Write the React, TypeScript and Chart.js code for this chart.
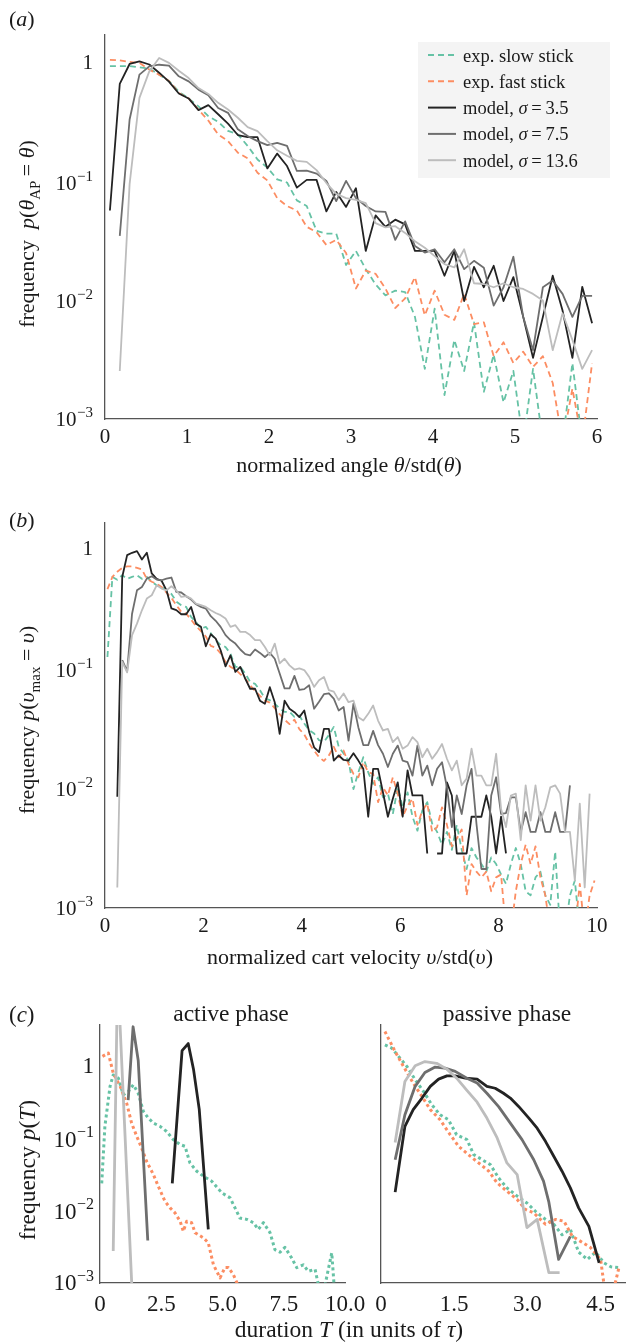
import React, { useEffect, useRef } from 'react';
import { Chart, registerables } from 'chart.js';

Chart.register(...registerables);

const FONT = '"Liberation Serif", "Times New Roman", Times, serif';
const INK = '#1a1a1a';
const AXIS = '#555555';
const GREEN = '#66c2a5';
const ORANGE = '#fc8d62';
const C35 = '#232323';
const C75 = '#6e6e6e';
const C136 = '#bdbdbd';
const W = 627;

// ---------------- Panel (a): normalized angle ----------------
const aBins = [0.06, 0.18, 0.30, 0.42, 0.54, 0.66, 0.78, 0.90, 1.02, 1.14,
  1.26, 1.38, 1.50, 1.62, 1.74, 1.86, 1.98, 2.10, 2.22, 2.34,
  2.46, 2.58, 2.70, 2.82, 2.94, 3.06, 3.18, 3.30, 3.42, 3.54,
  3.66, 3.78, 3.90, 4.02, 4.14, 4.26, 4.38, 4.50, 4.62, 4.74,
  4.86, 4.98, 5.10, 5.22, 5.34, 5.46, 5.58, 5.70, 5.82, 5.94];
const aSlow = [0.92, 0.92, 0.92, 0.90, 0.88, 0.78, 0.69, 0.56, 0.49, 0.42,
  0.347, 0.31, 0.26, 0.243, 0.194, 0.149, 0.127, 0.101, 0.095, 0.067,
  0.060, 0.037, 0.035, 0.035, 0.019, 0.025, 0.0175, 0.013, 0.0105, 0.0115,
  0.0112, 0.0069, 0.0025, 0.0081, 0.0015, 0.0044, 0.0024, 0.0062, 0.0016, 0.0033,
  0.0013, 0.0024, 0.0006, 0.0025, 0.0006, 0.0006, 0.0006, 0.0028, 0.0006, 0.0006];
const aFast = [1.04, 1.03, 1.00, 0.98, 0.86, 0.78, 0.69, 0.546, 0.49, 0.394,
  0.318, 0.243, 0.213, 0.170, 0.152, 0.115, 0.099, 0.070, 0.060, 0.055,
  0.040, 0.036, 0.028, 0.031, 0.024, 0.012, 0.017, 0.016, 0.012, 0.0082,
  0.0099, 0.015, 0.0071, 0.0115, 0.0072, 0.0065, 0.0108, 0.0060, 0.0062, 0.0032,
  0.0042, 0.0028, 0.0035, 0.0026, 0.0032, 0.0019, 0.0006, 0.0017, 0.0006, 0.0028];
const aM35 = [0.055, 0.65, 0.96, 1.01, 0.95, 0.81, 0.68, 0.54, 0.49, 0.39,
  0.43, 0.36, 0.30, 0.24, 0.23, 0.23, 0.125, 0.167, 0.131, 0.086,
  0.10, 0.10, 0.054, 0.079, 0.059, 0.085, 0.025, 0.050, 0.040, 0.046,
  0.042, 0.025, 0.025, 0.025, 0.0154, 0.025, 0.0094, 0.0183, 0.0123, 0.0187,
  0.0094, 0.015, 0.0069, 0.0031, 0.0069, 0.0154, 0.0078, 0.0031, 0.0124, 0.0061];
const aM75 = [null, 0.0335, 0.325, 0.78, 0.916, 0.946, 0.93, 0.755, 0.684, 0.582,
  0.521, 0.407, 0.37, 0.268, 0.235, 0.213, 0.197, 0.206, 0.194, 0.119,
  0.12, 0.113, 0.098, 0.066, 0.098, 0.07, 0.06, 0.054, 0.0535, 0.031,
  0.0445, 0.0275, 0.0242, 0.0258, 0.020, 0.0258, 0.0175, 0.0206, 0.018, 0.0086,
  0.0123, 0.0223, 0.0069, 0.0036, 0.0123, 0.014, 0.0108, 0.0069, 0.0104, 0.0104];
const aM136 = [null, 0.0024, 0.092, 0.495, 0.83, 1.08, 0.98, 0.84, 0.73, 0.60,
  0.535, 0.45, 0.395, 0.336, 0.28, 0.259, 0.213, 0.178, 0.16, 0.145,
  0.142, 0.121, 0.094, 0.076, 0.07, 0.0676, 0.0634, 0.043, 0.0396, 0.0405,
  0.0355, 0.0302, 0.0266, 0.0226, 0.0193, 0.0181, 0.0258, 0.0133, 0.0131, 0.0123,
  0.0133, 0.0123, 0.0119, 0.0108, 0.0095, 0.0036, 0.0074, 0.0044, 0.0025, 0.0036];

// ---------------- Panel (b): normalized cart velocity ----------------
const bBins = [0.05, 0.15, 0.25, 0.35, 0.45, 0.55, 0.65, 0.75, 0.85, 0.95,
  1.05, 1.15, 1.25, 1.35, 1.45, 1.55, 1.65, 1.75, 1.85, 1.95,
  2.05, 2.15, 2.25, 2.35, 2.45, 2.55, 2.65, 2.75, 2.85, 2.95,
  3.05, 3.15, 3.25, 3.35, 3.45, 3.55, 3.65, 3.75, 3.85, 3.95,
  4.05, 4.15, 4.25, 4.35, 4.45, 4.55, 4.65, 4.75, 4.85, 4.95,
  5.05, 5.15, 5.25, 5.35, 5.45, 5.55, 5.65, 5.75, 5.85, 5.95,
  6.05, 6.15, 6.25, 6.35, 6.45, 6.55, 6.65, 6.75, 6.85, 6.95,
  7.05, 7.15, 7.25, 7.35, 7.45, 7.55, 7.65, 7.75, 7.85, 7.95,
  8.05, 8.15, 8.25, 8.35, 8.45, 8.55, 8.65, 8.75, 8.85, 8.95,
  9.05, 9.15, 9.25, 9.35, 9.45, 9.55, 9.65, 9.75, 9.85, 9.95];
const bSlow = [0.121, 0.57, 0.54, 0.59, 0.55, 0.57, 0.59, 0.55, 0.57, 0.52,
  0.485, 0.47, 0.44, 0.41, 0.354, 0.33, 0.319, 0.263, 0.238, 0.21,
  0.217, 0.192, 0.168, 0.153, 0.147, 0.129, 0.10, 0.10, 0.088, 0.0748,
  0.072, 0.0637, 0.0542, 0.0525, 0.049, 0.0447, 0.0419, 0.0419, 0.038, 0.039,
  0.0334, 0.0294, 0.0275, 0.0242, 0.0234, 0.0267, 0.0313, 0.0213, 0.0187, 0.0163,
  0.0094, 0.013, 0.0174, 0.013, 0.0104, 0.0118, 0.008, 0.0086, 0.0058, 0.0097,
  0.0066, 0.0088, 0.0055, 0.0042, 0.0062, 0.0073, 0.0048, 0.0041, 0.0032, 0.0041,
  0.0029, 0.0047, 0.0029, 0.002, 0.003, 0.0025, 0.0022, 0.0019, 0.0025, 0.0022,
  0.0018, 0.0015, 0.0022, 0.003, 0.0022, 0.0013, 0.0012, 0.0017, 0.0019, 0.0012,
  0.001, 0.0028, 0.0006, 0.0006, 0.0012, 0.0016, 0.0006, 0.0006, null, null];
const bFast = [0.45, 0.57, 0.63, 0.68, 0.70, 0.70, 0.68, 0.66, 0.55, 0.52,
  0.50, 0.47, 0.42, 0.38, 0.33, 0.29, 0.28, 0.25, 0.22, 0.20,
  0.18, 0.15, 0.145, 0.13, 0.11, 0.10, 0.095, 0.087, 0.08, 0.07,
  0.063, 0.057, 0.052, 0.05, 0.045, 0.04, 0.036, 0.033, 0.036, 0.03,
  0.027, 0.0227, 0.0198, 0.0174, 0.0162, 0.018, 0.0213, 0.0174, 0.0198, 0.0153,
  0.0126, 0.0118, 0.0158, 0.013, 0.0126, 0.0073, 0.0097, 0.0083, 0.0118, 0.0086,
  0.0055, 0.0068, 0.0078, 0.0047, 0.0062, 0.0071, 0.0041, 0.0045, 0.0066, 0.0047,
  0.0031, 0.0036, 0.0043, 0.0012, 0.0022, 0.0019, 0.0017, 0.0019, 0.0013, 0.0017,
  0.0018, 0.0006, 0.0006, 0.0013, 0.0022, 0.0032, 0.0022, 0.0031, 0.0017, 0.0012,
  0.0006, 0.0006, 0.0006, 0.0006, 0.0006, 0.0006, 0.0015, 0.0006, 0.0012, 0.0016];
const bM35 = [null, null, 0.0081, 0.57, 0.87, 0.91, 0.94, 0.80, 0.91, 0.61,
  0.55, 0.53, 0.44, 0.31, 0.30, 0.277, 0.277, 0.319, 0.231, 0.217,
  0.149, 0.188, 0.173, 0.138, 0.101, 0.125, 0.0908, 0.10, 0.0798, 0.0655,
  0.0655, 0.052, 0.049, 0.0675, 0.0505, 0.0274, 0.052, 0.0444, 0.0416, 0.0378,
  0.043, 0.0283, 0.0211, 0.0192, 0.0301, 0.0301, 0.0163, 0.018, 0.0165, 0.0163,
  0.0188, 0.0163, 0.0139, 0.0055, 0.0139, 0.0139, 0.0088, 0.0055, 0.0078, 0.0107,
  0.0055, 0.0135, 0.0083, 0.0083, 0.0083, 0.0027, null, 0.0027, 0.0027, 0.0107,
  0.0083, 0.0027, 0.0027, 0.0027, 0.0055, 0.0055, 0.0055, 0.0083, 0.0055, 0.0027,
  0.0055, 0.0027, null, null, null, null, null, null, null, null,
  null, null, null, null, null, null, null, null, null, null];
const bM75 = [null, null, null, 0.114, 0.092, 0.28, 0.44, 0.47, 0.552, 0.578,
  0.542, 0.535, 0.552, 0.564, 0.427, 0.422, 0.393, 0.368, 0.336, 0.319,
  0.309, 0.267, 0.244, 0.217, 0.185, 0.168, 0.157, 0.14, 0.128, 0.125,
  0.14, 0.131, 0.121, 0.131, 0.117, 0.088, 0.066, 0.066, 0.084, 0.064,
  0.065, 0.07, 0.0445, 0.051, 0.059, 0.06, 0.054, 0.043, 0.046, 0.024,
  0.049, 0.031, 0.022, 0.022, 0.029, 0.022, 0.0186, 0.0144, 0.0186, 0.0218,
  0.0163, 0.0158, 0.0122, 0.0218, 0.0122, 0.0148, 0.0101, 0.0139, 0.0158, 0.0097,
  0.0045, 0.0083, 0.0058, 0.0101, 0.0139, 0.0048, 0.002, 0.002, 0.0083, 0.0118,
  0.0058, 0.0059, 0.008, 0.008, 0.0041, 0.006, 0.0041, 0.0041, 0.006, 0.0041,
  0.0041, 0.006, 0.0041, 0.0041, 0.0101, null, null, null, null, null];
const bM136 = [null, null, 0.0014, 0.11, 0.09, 0.185, 0.231, 0.299, 0.375, 0.40,
  0.485, 0.455, 0.44, 0.476, 0.44, 0.387, 0.393, 0.375, 0.34, 0.33,
  0.319, 0.299, 0.284, 0.272, 0.255, 0.217, 0.224, 0.197, 0.197, 0.185,
  0.168, 0.168, 0.147, 0.125, 0.157, 0.107, 0.117, 0.103, 0.095, 0.097,
  0.094, 0.0824, 0.0679, 0.0773, 0.0824, 0.0637, 0.0619, 0.0525, 0.0597, 0.0505,
  0.0521, 0.0378, 0.0354, 0.0403, 0.0473, 0.0354, 0.0292, 0.0301, 0.0233, 0.0257,
  0.0205, 0.0218, 0.0257, 0.0233, 0.0174, 0.0205, 0.0169, 0.0192, 0.0225, 0.0169,
  0.0135, 0.0163, 0.0101, 0.0115, 0.0205, 0.0122, 0.0122, 0.0101, 0.0101, 0.0186,
  0.0064, 0.0045, 0.0083, 0.0086, 0.0035, 0.0101, 0.0051, 0.0101, 0.0051, 0.0066,
  0.0097, 0.0101, 0.0086, 0.0041, 0.0041, 0.0016, 0.0071, 0.0014, 0.0086, null];

// ---------------- Panel (c): durations ----------------
const cActSlowX = [0.07, 0.2, 0.41, 0.54, 0.75, 0.95, 1.16, 1.36, 1.56, 1.77, 1.97, 2.18, 2.45, 2.72, 2.99, 3.27, 3.47, 3.67, 3.95, 4.22, 4.56, 4.97, 5.31, 5.51, 5.71, 5.99, 6.26, 6.46, 6.67, 6.94, 7.14, 7.35, 7.55, 7.82, 8.03, 8.3, 8.5, 8.78, 9.05, 9.46, 9.6];
const cActSlowY = [0.022, 0.138, 0.50, 0.72, 0.65, 0.38, 0.425, 0.526, 0.40, 0.223, 0.18, 0.153, 0.138, 0.117, 0.09, 0.0765, 0.0725, 0.0425, 0.0325, 0.0277, 0.0236, 0.0162, 0.0138, 0.01, 0.0072, 0.0069, 0.0062, 0.005, 0.0062, 0.0045, 0.0026, 0.0024, 0.0028, 0.002, 0.00146, 0.0016, 0.0013, 0.00138, 0.0005, 0.00235, 0.0005];
const cActFastX = [0.1, 0.34, 0.54, 0.82, 1.09, 1.29, 1.5, 1.7, 1.9, 2.18, 2.38, 2.65, 2.86, 3.06, 3.27, 3.4, 3.54, 3.74, 3.88, 4.22, 4.42, 4.63, 4.9, 5.1, 5.24, 5.44, 5.65];
const cActFastY = [1.31, 1.46, 0.765, 0.5, 0.29, 0.153, 0.1, 0.0687, 0.0448, 0.0292, 0.02, 0.0124, 0.01, 0.0085, 0.0065, 0.0047, 0.0065, 0.0062, 0.0045, 0.0038, 0.00325, 0.0016, 0.00105, 0.00146, 0.00146, 0.00117, 0.0008];
const cActM35X = [2.95, 3.35, 3.6, 3.82, 4.05, 4.42];
const cActM35Y = [0.022, 1.58, 1.98, 0.85, 0.24, 0.005];
const cActM75X = [1.15, 1.35, 1.56, 1.95];
const cActM75Y = [0.32, 3.4, 1.15, 0.0035];
const cActM136X = [0.54, 0.72, 1.3];
const cActM136Y = [0.0025, 20, 0.0008];

const cPasSlowX = [0.08, 0.22, 0.36, 0.53, 0.70, 0.87, 1.04, 1.21, 1.38, 1.55, 1.76, 1.90, 2.07, 2.24, 2.41, 2.58, 2.79, 2.99, 3.16, 3.37, 3.54, 3.71, 3.88, 4.05, 4.23, 4.40, 4.57, 4.71, 4.88];
const cPasSlowY = [1.9, 1.71, 1.31, 0.95, 0.62, 0.425, 0.277, 0.2, 0.171, 0.105, 0.09, 0.0555, 0.0472, 0.0402, 0.0262, 0.019, 0.0146, 0.0117, 0.009, 0.0069, 0.0059, 0.0042, 0.005, 0.0024, 0.0019, 0.0024, 0.0017, 0.0015, 0.00146];
const cPasFastX = [0.08, 0.29, 0.46, 0.66, 0.84, 1.01, 1.21, 1.42, 1.59, 1.79, 2.0, 2.21, 2.38, 2.58, 2.79, 2.96, 3.13, 3.37, 3.58, 3.75, 3.92, 4.09, 4.29, 4.5, 4.6, 4.74, 4.88];
const cPasFastY = [2.92, 1.53, 0.95, 0.555, 0.361, 0.236, 0.171, 0.105, 0.0725, 0.0555, 0.0425, 0.0325, 0.0223, 0.0171, 0.0131, 0.0095, 0.0085, 0.0059, 0.0069, 0.0065, 0.004, 0.0034, 0.0028, 0.0019, 0.0006, 0.0006, 0.0015];
const cPasM35X = [0.29, 0.49, 0.66, 0.84, 1.01, 1.18, 1.35, 1.52, 1.73, 1.97, 2.17, 2.34, 2.51, 2.65, 2.82, 3.03, 3.2, 3.37, 3.54, 3.71, 3.88, 4.05, 4.26, 4.47];
const cPasM35Y = [0.0166, 0.138, 0.236, 0.343, 0.5, 0.63, 0.70, 0.70, 0.65, 0.63, 0.5, 0.47, 0.40, 0.343, 0.262, 0.18, 0.13, 0.085, 0.0526, 0.0325, 0.019, 0.01, 0.0055, 0.0017];
const cPasM75X = [0.29, 0.49, 0.70, 0.90, 1.11, 1.31, 1.52, 1.76, 1.97, 2.17, 2.41, 2.65, 2.89, 3.13, 3.33, 3.44, 3.64, 3.88];
const cPasM75Y = [0.047, 0.2, 0.5, 0.78, 0.93, 0.90, 0.81, 0.65, 0.555, 0.40, 0.26, 0.153, 0.09, 0.047, 0.0236, 0.012, 0.0019, 0.004];
const cPasM136X = [0.29, 0.49, 0.70, 0.90, 1.14, 1.35, 1.55, 1.76, 1.97, 2.17, 2.38, 2.58, 2.79, 2.99, 3.2, 3.44, 3.66];
const cPasM136Y = [0.082, 0.585, 0.97, 1.11, 1.05, 0.87, 0.65, 0.44, 0.30, 0.18, 0.095, 0.0425, 0.0292, 0.0053, 0.0069, 0.00124, 0.00124];

// ---------------- ticks ----------------
const aXTicks = [0, 1, 2, 3, 4, 5, 6];
const aXLabels = ['0', '1', '2', '3', '4', '5', '6'];
const bXTicks = [0, 2, 4, 6, 8, 10];
const bXLabels = ['0', '2', '4', '6', '8', '10'];
const cActXTicks = [0, 2.5, 5, 7.5, 10];
const cActXLabels = ['0', '2.5', '5.0', '7.5', '10.0'];
const cPasXTicks = [0, 1.5, 3, 4.5];
const cPasXLabels = ['0', '1.5', '3.0', '4.5'];
const yTickValues = [1, 0.1, 0.01, 0.001];
const yTickSup = ['', '\u22121', '\u22122', '\u22123'];

// ---------------- texts ----------------
type Seg = { t: string; i?: boolean; sub?: boolean };
const aYTitle: Seg[] = [{ t: 'frequency  ' }, { t: 'p', i: true }, { t: '(' }, { t: 'θ', i: true }, { t: 'AP', sub: true }, { t: '\u2009= ' }, { t: 'θ', i: true }, { t: ')' }];
const aXTitle: Seg[] = [{ t: 'normalized angle ' }, { t: 'θ', i: true }, { t: '/std(' }, { t: 'θ', i: true }, { t: ')' }];
const bYTitle: Seg[] = [{ t: 'frequency ' }, { t: 'p', i: true }, { t: '(' }, { t: 'υ', i: true }, { t: 'max', sub: true }, { t: ' = ' }, { t: 'υ', i: true }, { t: ')' }];
const bXTitle: Seg[] = [{ t: 'normalized cart velocity ' }, { t: 'υ', i: true }, { t: '/std(' }, { t: 'υ', i: true }, { t: ')' }];
const cYTitle: Seg[] = [{ t: 'frequency ' }, { t: 'p', i: true }, { t: '(' }, { t: 'T', i: true }, { t: ')' }];
const cXTitle: Seg[] = [{ t: 'duration ' }, { t: 'T', i: true }, { t: ' (in units of ' }, { t: 'τ', i: true }, { t: ')' }];
const legendItems: { segs: Seg[]; color: string; dash: number[] }[] = [
  { segs: [{ t: 'exp. slow stick' }], color: GREEN, dash: [6, 4] },
  { segs: [{ t: 'exp. fast stick' }], color: ORANGE, dash: [6, 4] },
  { segs: [{ t: 'model, ' }, { t: 'σ', i: true }, { t: '\u2009=\u20093.5' }], color: C35, dash: [] },
  { segs: [{ t: 'model, ' }, { t: 'σ', i: true }, { t: '\u2009=\u20097.5' }], color: C75, dash: [] },
  { segs: [{ t: 'model, ' }, { t: 'σ', i: true }, { t: '\u2009=\u200913.6' }], color: C136, dash: [] },
];

function segFont(s: Seg, size: number) {
  const sz = s.sub ? Math.round(size * 0.7) : size;
  return `${s.i ? 'italic ' : ''}${sz}px ${FONT}`;
}
function drawRich(ctx: CanvasRenderingContext2D, segs: Seg[], x: number, y: number, size: number, align: 'left' | 'center' | 'right', rot = 0) {
  ctx.save();
  ctx.translate(x, y);
  if (rot) ctx.rotate(rot);
  ctx.fillStyle = INK;
  ctx.textAlign = 'left';
  ctx.textBaseline = 'alphabetic';
  let w = 0;
  for (const s of segs) { ctx.font = segFont(s, size); w += ctx.measureText(s.t).width; }
  let cx = align === 'center' ? -w / 2 : align === 'right' ? -w : 0;
  for (const s of segs) {
    ctx.font = segFont(s, size);
    ctx.fillText(s.t, cx, s.sub ? size * 0.28 : 0);
    cx += ctx.measureText(s.t).width;
  }
  ctx.restore();
}
function drawYTicks(ctx: CanvasRenderingContext2D, chart: any, top: number, rightX: number, size: number) {
  const ys = chart.scales.y;
  const ss = Math.round(size * 0.7);
  ctx.save();
  ctx.fillStyle = INK;
  ctx.textBaseline = 'alphabetic';
  yTickValues.forEach((v, i) => {
    const py = ys.getPixelForValue(v) + top;
    const sup = yTickSup[i];
    if (!sup) {
      ctx.font = `${size}px ${FONT}`;
      ctx.textAlign = 'right';
      ctx.fillText('1', rightX, py + size * 0.34);
    } else {
      ctx.textAlign = 'left';
      ctx.font = `${size}px ${FONT}`;
      const wb = ctx.measureText('10').width;
      ctx.font = `${ss}px ${FONT}`;
      const ws = ctx.measureText(sup).width;
      const x0 = rightX - wb - ws - 0.5;
      const base = py + size * 0.47;
      ctx.font = `${size}px ${FONT}`;
      ctx.fillText('10', x0, base);
      ctx.font = `${ss}px ${FONT}`;
      ctx.fillText(sup, x0 + wb + 0.5, base - size * 0.42);
    }
  });
  ctx.restore();
}

function line(xs: number[], ys: (number | null)[], color: string, width: number, dash: number[] = []) {
  return {
    data: xs.map((x, i) => ({ x, y: ys[i] })),
    borderColor: color,
    borderWidth: width,
    borderDash: dash,
    borderCapStyle: 'butt',
    borderJoinStyle: 'round',
    pointRadius: 0,
    pointHoverRadius: 0,
    fill: false,
    tension: 0,
    spanGaps: false,
  };
}

interface Spec {
  canvas: HTMLCanvasElement;
  top: number;
  height: number;
  area: { left: number; right: number; top: number; bottom: number };
  xMin: number; xMax: number; xTicks: number[]; xLabels: string[]; tickPad: number; tickSize: number;
  yMin: number; yMax: number;
  datasets: any[];
  draw: (ctx: CanvasRenderingContext2D, chart: any, top: number) => void;
}

function makeChart(s: Spec) {
  return new Chart(s.canvas, {
    type: 'line',
    data: { datasets: s.datasets },
    options: {
      animation: false,
      responsive: false,
      maintainAspectRatio: false,
      devicePixelRatio: 1,
      events: [],
      layout: { autoPadding: false, padding: { left: 0, right: W - s.area.right, top: s.area.top - s.top, bottom: 0 } },
      plugins: { legend: { display: false }, tooltip: { enabled: false }, title: { display: false } },
      scales: {
        x: {
          type: 'linear', min: s.xMin, max: s.xMax,
          grid: { display: false, drawTicks: false },
          border: { display: true, color: AXIS, width: 1.3 },
          afterBuildTicks: (sc: any) => { sc.ticks = s.xTicks.map((v) => ({ value: v })); },
          afterFit: (sc: any) => { sc.height = s.top + s.height - s.area.bottom; },
          ticks: {
            autoSkip: false, maxRotation: 0, minRotation: 0, padding: s.tickPad, color: INK,
            font: { family: FONT, size: s.tickSize },
            callback: (_v: any, i: number) => s.xLabels[i],
          },
        },
        y: {
          type: 'logarithmic', min: s.yMin, max: s.yMax,
          grid: { display: false, drawTicks: false },
          border: { display: true, color: AXIS, width: 1.3 },
          afterFit: (sc: any) => { sc.width = s.area.left; },
          ticks: { display: false },
        },
      },
    } as any,
    plugins: [{
      id: 'annot',
      afterDraw: (chart: any) => {
        const ctx = chart.ctx as CanvasRenderingContext2D;
        ctx.save();
        ctx.translate(0, -s.top);
        s.draw(ctx, chart, s.top);
        ctx.restore();
      },
    }],
  } as any);
}

export default function App() {
  const refA = useRef<HTMLCanvasElement>(null);
  const refB = useRef<HTMLCanvasElement>(null);
  const refC1 = useRef<HTMLCanvasElement>(null);
  const refC2 = useRef<HTMLCanvasElement>(null);

  useEffect(() => {
    const charts: Chart[] = [];
    charts.push(makeChart({
      canvas: refA.current!, top: 0, height: 490,
      area: { left: 105, right: 597, top: 35, bottom: 419 },
      xMin: 0, xMax: 6, xTicks: aXTicks, xLabels: aXLabels, tickPad: 6, tickSize: 21,
      yMin: 0.00094, yMax: 1.69,
      datasets: [
        line(aBins, aM136, C136, 1.8),
        line(aBins, aM75, C75, 1.8),
        line(aBins, aM35, C35, 1.8),
        line(aBins, aFast, ORANGE, 1.8, [6, 4]),
        line(aBins, aSlow, GREEN, 1.8, [6, 4]),
      ],
      draw: (ctx, chart, top) => {
        drawYTicks(ctx, chart, top, 93, 21);
        drawRich(ctx, [{ t: '(' }, { t: 'a', i: true }, { t: ')' }], 9, 26, 22, 'left');
        drawRich(ctx, aYTitle, 34, 234, 22, 'center', -Math.PI / 2);
        drawRich(ctx, aXTitle, 349, 472, 22, 'center');
        ctx.save();
        ctx.fillStyle = '#f4f4f4';
        ctx.fillRect(418, 42, 192, 136);
        legendItems.forEach((it, i) => {
          const y = 55 + i * 26.3;
          ctx.save();
          ctx.strokeStyle = it.color;
          ctx.lineWidth = 2;
          ctx.setLineDash(it.dash);
          ctx.beginPath();
          ctx.moveTo(428, y);
          ctx.lineTo(456, y);
          ctx.stroke();
          ctx.restore();
          drawRich(ctx, it.segs, 463, y + 6.5, 18.5, 'left');
        });
        ctx.restore();
      },
    }));
    charts.push(makeChart({
      canvas: refB.current!, top: 490, height: 480,
      area: { left: 105, right: 597, top: 523, bottom: 908 },
      xMin: 0, xMax: 10, xTicks: bXTicks, xLabels: bXLabels, tickPad: 6, tickSize: 21,
      yMin: 0.00094, yMax: 1.62,
      datasets: [
        line(bBins, bM136, C136, 1.8),
        line(bBins, bM75, C75, 1.8),
        line(bBins, bM35, C35, 1.8),
        line(bBins, bFast, ORANGE, 1.8, [6, 4]),
        line(bBins, bSlow, GREEN, 1.8, [6, 4]),
      ],
      draw: (ctx, chart, top) => {
        drawYTicks(ctx, chart, top, 93, 21);
        drawRich(ctx, [{ t: '(' }, { t: 'b', i: true }, { t: ')' }], 9, 527, 22, 'left');
        drawRich(ctx, bYTitle, 34, 720, 22, 'center', -Math.PI / 2);
        drawRich(ctx, bXTitle, 350, 964, 22, 'center');
      },
    }));
    charts.push(makeChart({
      canvas: refC1.current!, top: 970, height: 374,
      area: { left: 100, right: 345, top: 1025, bottom: 1283 },
      xMin: 0, xMax: 10, xTicks: cActXTicks, xLabels: cActXLabels, tickPad: 8, tickSize: 23,
      yMin: 0.00089, yMax: 3.6,
      datasets: [
        line(cActM136X, cActM136Y, C136, 2.8),
        line(cActM75X, cActM75Y, C75, 2.8),
        line(cActM35X, cActM35Y, C35, 2.8),
        line(cActFastX, cActFastY, ORANGE, 3, [3, 3]),
        line(cActSlowX, cActSlowY, GREEN, 3, [3, 3]),
      ],
      draw: (ctx, chart, top) => {
        drawYTicks(ctx, chart, top, 94, 23);
        drawRich(ctx, [{ t: '(' }, { t: 'c', i: true }, { t: ')' }], 9, 1022, 23, 'left');
        drawRich(ctx, [{ t: 'active phase' }], 231, 1021, 23.5, 'center');
        drawRich(ctx, cYTitle, 35, 1170, 23.5, 'center', -Math.PI / 2);
      },
    }));
    charts.push(makeChart({
      canvas: refC2.current!, top: 970, height: 374,
      area: { left: 381, right: 625, top: 1025, bottom: 1283 },
      xMin: 0, xMax: 5, xTicks: cPasXTicks, xLabels: cPasXLabels, tickPad: 8, tickSize: 23,
      yMin: 0.00089, yMax: 3.6,
      datasets: [
        line(cPasM136X, cPasM136Y, C136, 2.8),
        line(cPasM75X, cPasM75Y, C75, 2.8),
        line(cPasM35X, cPasM35Y, C35, 2.8),
        line(cPasFastX, cPasFastY, ORANGE, 3, [3, 3]),
        line(cPasSlowX, cPasSlowY, GREEN, 3, [3, 3]),
      ],
      draw: (ctx) => {
        drawRich(ctx, [{ t: 'passive phase' }], 507, 1021, 23.5, 'center');
        drawRich(ctx, cXTitle, 349, 1337, 23.5, 'center');
      },
    }));
    return () => charts.forEach((c) => c.destroy());
  }, []);

  const cs = (top: number, h: number): React.CSSProperties => ({ position: 'absolute', left: 0, top, width: W, height: h });
  return (
    <div style={{ position: 'absolute', left: 0, top: 0, width: W, height: 1344, background: '#ffffff', overflow: 'hidden' }}>
      <canvas ref={refA} width={W} height={490} style={cs(0, 490)} />
      <canvas ref={refB} width={W} height={480} style={cs(490, 480)} />
      <canvas ref={refC1} width={W} height={374} style={cs(970, 374)} />
      <canvas ref={refC2} width={W} height={374} style={cs(970, 374)} />
    </div>
  );
}
